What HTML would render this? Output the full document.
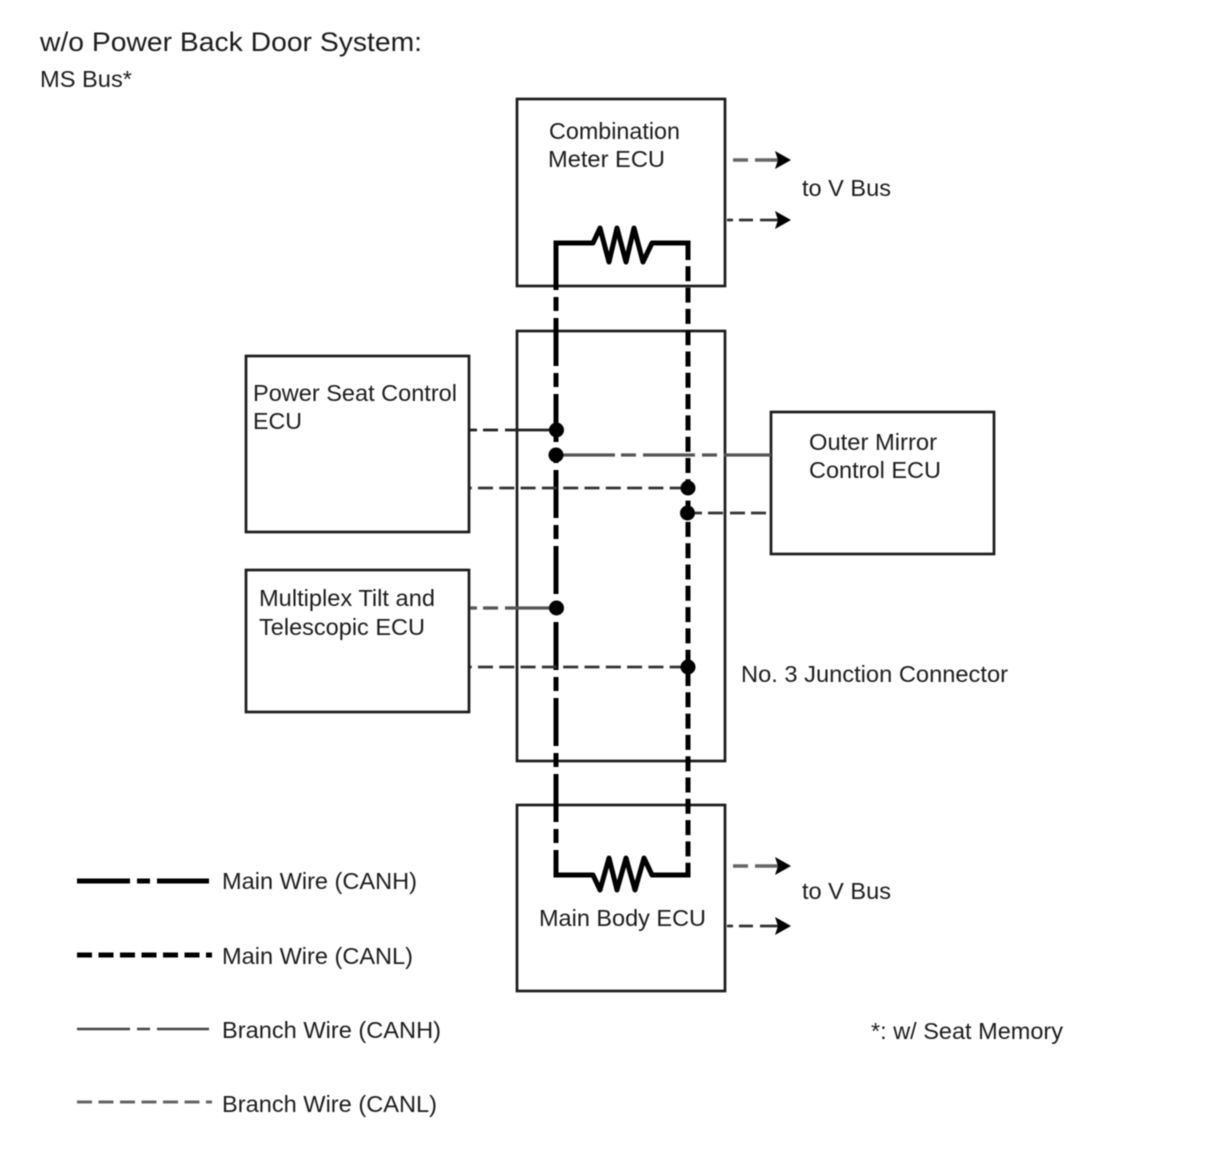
<!DOCTYPE html>
<html><head><meta charset="utf-8">
<style>
html,body{margin:0;padding:0;background:#fff;width:1210px;height:1156px;overflow:hidden}
svg{display:block;filter:blur(0.5px)}
text{font-family:"Liberation Sans",sans-serif;font-size:23px;fill:#1c1c1c}
</style></head><body>
<svg width="1210" height="1156" viewBox="0 0 1210 1156" xmlns="http://www.w3.org/2000/svg">
<rect width="1210" height="1156" fill="#fff"/>
<g fill="none" stroke="#1c1c1c" stroke-width="2.7">
<rect x="517" y="99" width="208" height="187"/>
<rect x="517" y="331" width="208" height="430"/>
<rect x="517" y="805" width="208" height="186"/>
<rect x="246" y="356" width="223" height="176"/>
<rect x="246" y="570" width="223" height="142"/>
<rect x="771" y="412" width="223" height="142"/>
</g>
<!-- main wires -->
<g fill="none" stroke="#000" stroke-width="5">
<path d="M556 242V875" stroke-dasharray="48 7 14 7"/>
<path d="M688 245V875" stroke-dasharray="15 6.3"/>
<path d="M553.5 243H593L600 228L609 262L617 228L626 262L634 228L643 262L652 243H690.5" stroke-linejoin="round"/>
<path d="M553.5 875H593L600 890L609 858L617 890L626 858L635 890L644 858L652 875H690.5" stroke-linejoin="round"/>
</g>
<!-- branch wires -->
<g fill="none" stroke-width="2.7">
<path d="M470 430H477M483 430H498M505 430H556" stroke="#222"/>
<path d="M563 455H615M621 455H636M643 455H695M702 455H717M724 455H771" stroke="#555" stroke-width="3.2"/>
<path d="M470 488H688" stroke="#333" stroke-dasharray="15 6.3" stroke-dashoffset="13.3"/>
<path d="M695 513H702M708 513H723M730 513H745M751 513H766" stroke="#333"/>
<path d="M470 608H477M483 608H498M505 608H556" stroke="#555" stroke-width="3.2"/>
<path d="M470 667H688" stroke="#333" stroke-dasharray="15 6.3" stroke-dashoffset="13.3"/>
<path d="M733 160H748M755 160H780" stroke="#666" stroke-width="3.6"/>
<path d="M727 220H733M739 220H753M760 220H778" stroke="#333"/>
<path d="M733 866H748M755 866H780" stroke="#666" stroke-width="3.6"/>
<path d="M727 926H733M739 926H753M760 926H778" stroke="#333"/>
</g>
<!-- arrowheads -->
<g fill="#000">
<path d="M791 160L775 151L778 160L775 169Z"/>
<path d="M791 220L775 211L778 220L775 229Z"/>
<path d="M791 866L775 857L778 866L775 875Z"/>
<path d="M791 926L775 917L778 926L775 935Z"/>
</g>
<!-- junction dots -->
<g fill="#000">
<circle cx="556.5" cy="430" r="7.5"/>
<circle cx="556" cy="455" r="7.5"/>
<circle cx="688" cy="488" r="7.5"/>
<circle cx="687.5" cy="513" r="7.5"/>
<circle cx="556.5" cy="608" r="7.5"/>
<circle cx="688" cy="667" r="7.5"/>
</g>
<!-- legend -->
<g fill="none">
<path d="M77 881H130M137 881H150M157 881H209" stroke="#000" stroke-width="5"/>
<path d="M77 955H212" stroke="#000" stroke-width="5" stroke-dasharray="15 6.5"/>
<path d="M77 1029H130M137 1029H150M157 1029H209" stroke="#444" stroke-width="2.6"/>
<path d="M77 1102H212" stroke="#666" stroke-width="3" stroke-dasharray="15 6.5"/>
</g>
<!-- text -->
<text x="40" y="51" style="font-size:27px" textLength="382" lengthAdjust="spacingAndGlyphs">w/o Power Back Door System:</text>
<text x="40" y="87" textLength="92" lengthAdjust="spacingAndGlyphs">MS Bus*</text>
<text x="549" y="139" textLength="131" lengthAdjust="spacingAndGlyphs">Combination</text>
<text x="548" y="167" textLength="117" lengthAdjust="spacingAndGlyphs">Meter ECU</text>
<text x="802" y="196" textLength="89" lengthAdjust="spacingAndGlyphs">to V Bus</text>
<text x="253" y="401" textLength="204" lengthAdjust="spacingAndGlyphs">Power Seat Control</text>
<text x="253" y="429" textLength="49" lengthAdjust="spacingAndGlyphs">ECU</text>
<text x="809" y="450" textLength="128" lengthAdjust="spacingAndGlyphs">Outer Mirror</text>
<text x="809" y="478" textLength="132" lengthAdjust="spacingAndGlyphs">Control ECU</text>
<text x="259" y="606" textLength="176" lengthAdjust="spacingAndGlyphs">Multiplex Tilt and</text>
<text x="259" y="635" textLength="166" lengthAdjust="spacingAndGlyphs">Telescopic ECU</text>
<text x="741" y="682" textLength="267" lengthAdjust="spacingAndGlyphs">No. 3 Junction Connector</text>
<text x="539" y="926" textLength="167" lengthAdjust="spacingAndGlyphs">Main Body ECU</text>
<text x="802" y="899" textLength="89" lengthAdjust="spacingAndGlyphs">to V Bus</text>
<text x="222" y="889" textLength="195" lengthAdjust="spacingAndGlyphs">Main Wire (CANH)</text>
<text x="222" y="964" textLength="191" lengthAdjust="spacingAndGlyphs">Main Wire (CANL)</text>
<text x="222" y="1038" textLength="219" lengthAdjust="spacingAndGlyphs">Branch Wire (CANH)</text>
<text x="222" y="1112" textLength="215" lengthAdjust="spacingAndGlyphs">Branch Wire (CANL)</text>
<text x="871" y="1039" textLength="192" lengthAdjust="spacingAndGlyphs">*: w/ Seat Memory</text>
</svg>
</body></html>
